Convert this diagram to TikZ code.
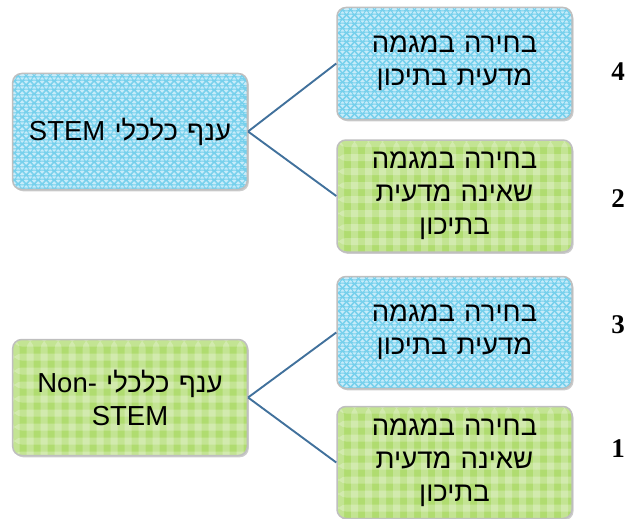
\documentclass[tikz,border=0pt]{standalone}
\usepackage{fontspec}
\setmainfont{Liberation Sans}
\newfontfamily\hebfont[Script=Hebrew]{Liberation Sans}
\newfontfamily\numfont{Liberation Serif}
\TeXXeTstate=1
\usetikzlibrary{calc,decorations.pathmorphing,shadows}
\definecolor{boxblue}{RGB}{200,236,250}
\definecolor{wavecol}{RGB}{118,208,236}
\definecolor{boxgreen}{RGB}{176,220,112}
\definecolor{connblue}{RGB}{65,113,156}
\begin{document}
\begin{tikzpicture}[x=1pt,y=-1pt,
  box/.style={rounded corners=9pt, text width=228pt, align=center,
    font=\hebfont\fontsize{27.5}{33}\selectfont, draw=gray!50, line width=1.5pt,
    drop shadow={shadow xshift=1.5pt, shadow yshift=-1.8pt, opacity=0.4}},
  bluebox/.style={box, fill=boxblue, path picture={
    \foreach \k in {5,14,...,130}{
      \draw[wavecol, line width=0.8pt, decorate, decoration={snake, amplitude=1.6pt, segment length=8pt}]
        ($(path picture bounding box.north west)+(-5,\k)$) -- ($(path picture bounding box.north east)+(5,\k)$);}
  }},
  greenbox/.style={box, fill=boxgreen, path picture={
    \foreach \k in {0,14,...,250}{
      \fill[white,opacity=0.25] ($(path picture bounding box.north west)+(\k,0)$) rectangle ++(7,130);}
    \foreach \k in {0,14,...,130}{
      \fill[white,opacity=0.25] ($(path picture bounding box.north west)+(0,\k)$) rectangle ++(250,7);}
  }},
  leftsize/.style={minimum width=232pt, minimum height=116pt},
  rightsize/.style={minimum width=235pt, minimum height=112pt},
  conn/.style={draw=connblue, line width=1.9pt},
  num/.style={font=\numfont\bfseries\fontsize{27}{30}\selectfont}
]
\useasboundingbox (0,0) rectangle (627,519);

\node[bluebox, leftsize] (L1) at (130,131.5) {\beginR ענף כלכלי \beginL STEM\endL\endR};
\node[greenbox, leftsize] (L2) at (130,397.5) {\beginR ענף כלכלי \beginL Non-\endL\endR\\STEM};

\node[bluebox, rightsize] (R4) at (454.5,63.5) {\beginR בחירה במגמה\endR\\\beginR מדעית בתיכון\endR};
\node[greenbox, rightsize] (R2) at (454.5,196) {\beginR בחירה במגמה\endR\\\beginR שאינה מדעית\endR\\\beginR בתיכון\endR};
\node[bluebox, rightsize] (R3) at (454.5,332.5) {\beginR בחירה במגמה\endR\\\beginR מדעית בתיכון\endR};
\node[greenbox, rightsize] (R1) at (454.5,462.5) {\beginR בחירה במגמה\endR\\\beginR שאינה מדעית\endR\\\beginR בתיכון\endR};

\draw[conn] (L1.east) -- (R4.west);
\draw[conn] (L1.east) -- (R2.west);
\draw[conn] (L2.east) -- (R3.west);
\draw[conn] (L2.east) -- (R1.west);

\node[num] (n4) at (618,72) {4};
\node[num] (n2) at (618,199) {2};
\node[num] (n3) at (618,325) {3};
\node[num] (n1) at (618,449) {1};
\end{tikzpicture}
\end{document}
